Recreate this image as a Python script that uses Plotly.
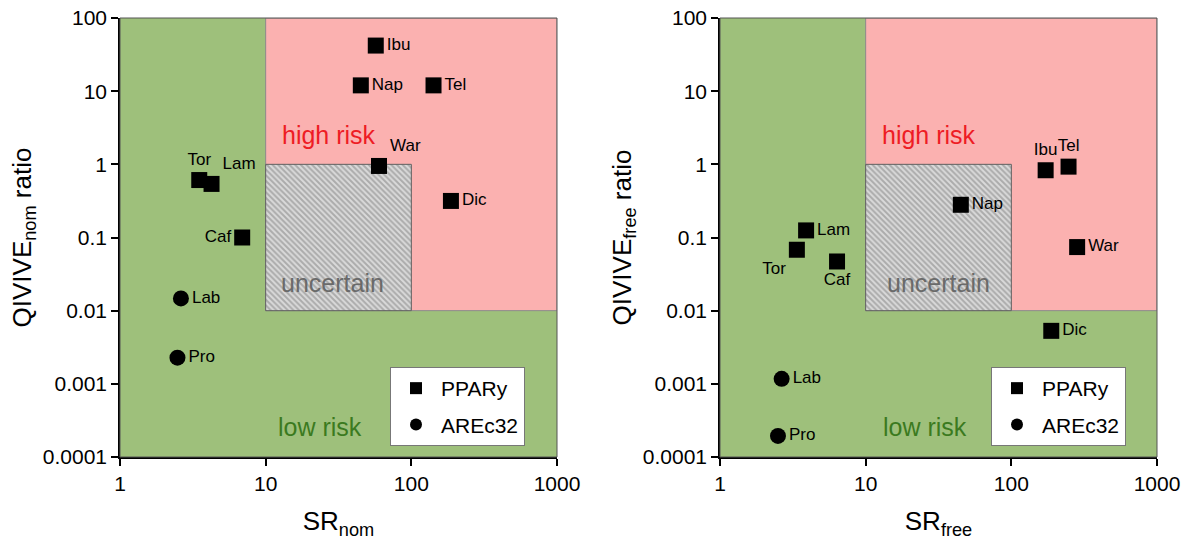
import plotly.graph_objects as go

# ---------------- data ----------------
ppar_names_nom = ["Ibu", "Nap", "Tel", "War", "Dic", "Tor", "Lam", "Caf"]
ppar_sr_nom = [57, 45, 142, 60, 187, 3.5, 4.25, 6.9]
ppar_q_nom = [42, 12, 12, 0.95, 0.316, 0.61, 0.54, 0.1]
ppar_pos_nom = ["middle right", "middle right", "middle right", "top right",
                "middle right", "top center", "top right", "middle left"]

are_names_nom = ["Lab", "Pro"]
are_sr_nom = [2.62, 2.48]
are_q_nom = [0.0147, 0.00228]
are_pos_nom = ["middle right", "middle right"]

ppar_names_free = ["Ibu", "Tel", "Nap", "War", "Dic", "Lam", "Tor", "Caf"]
ppar_sr_free = [172, 247, 45, 283, 188, 3.9, 3.37, 6.36]
ppar_q_free = [0.83, 0.93, 0.28, 0.074, 0.0053, 0.125, 0.068, 0.047]
ppar_pos_free = ["top center", "top center", "middle right", "middle right",
                 "middle right", "middle right", "bottom left", "bottom center"]

are_names_free = ["Lab", "Pro"]
are_sr_free = [2.65, 2.5]
are_q_free = [0.00117, 0.000194]
are_pos_free = ["middle right", "middle right"]

# risk thresholds
sr_thresholds = [10, 100, 1000]
q_thresholds = [0.01, 1, 100]

x_tickvals = [1, 10, 100, 1000]
x_ticktext = ["1", "10", "100", "1000"]
y_tickvals = [0.0001, 0.001, 0.01, 0.1, 1, 10, 100]
y_ticktext = ["0.0001", "0.001", "0.01", "0.1", "1", "10", "100"]

# ---------------- styling ----------------
W, H = 1193, 546
GREEN = "#9ec07b"
PINK = "#fbb1b0"
FONT = "Liberation Sans, Arial, sans-serif"


def px_x(p):
    return p / W


def px_y(p):
    return 1 - p / H


fig = go.Figure()


def add_panel(fig, xa, ya, legend, pn, px, py, ppos, an, ax_, ay, apos):
    x0, x1, x2 = sr_thresholds
    y0, y1, y2 = q_thresholds
    # high risk (pink) region
    fig.add_trace(go.Scatter(
        x=[x0, x2, x2, x0, x0], y=[y0, y0, y2, y2, y0],
        mode="lines", fill="toself", fillcolor=PINK,
        line=dict(color="#8a8a8a", width=1),
        hoverinfo="skip", showlegend=False, xaxis=xa, yaxis=ya))
    # uncertain (hatched) region
    fig.add_trace(go.Scatter(
        x=[x0, x1, x1, x0, x0], y=[y0, y0, y1, y1, y0],
        mode="lines", fill="toself",
        fillpattern=dict(shape="\\", bgcolor="#dadada", fgcolor="#7c7c7c",
                         size=4, solidity=0.5),
        line=dict(color="#606060", width=1),
        hoverinfo="skip", showlegend=False, xaxis=xa, yaxis=ya))
    fig.add_trace(go.Scatter(
        x=px, y=py, text=pn, mode="markers+text", textposition=ppos,
        marker=dict(symbol="square", size=16, color="black"),
        textfont=dict(size=17, color="black", family=FONT),
        name="PPARy", legend=legend, legendgroup="p" + legend,
        xaxis=xa, yaxis=ya, cliponaxis=False))
    fig.add_trace(go.Scatter(
        x=ax_, y=ay, text=an, mode="markers+text", textposition=apos,
        marker=dict(symbol="circle", size=16, color="black"),
        textfont=dict(size=17, color="black", family=FONT),
        name="AREc32", legend=legend, legendgroup="a" + legend,
        xaxis=xa, yaxis=ya, cliponaxis=False))


add_panel(fig, "x", "y", "legend", ppar_names_nom, ppar_sr_nom, ppar_q_nom, ppar_pos_nom,
          are_names_nom, are_sr_nom, are_q_nom, are_pos_nom)
add_panel(fig, "x2", "y2", "legend2", ppar_names_free, ppar_sr_free, ppar_q_free, ppar_pos_free,
          are_names_free, are_sr_free, are_q_free, are_pos_free)

# domains from pixel layout
lx0, lx1 = px_x(120), px_x(557)
rx0, rx1 = px_x(720), px_x(1157)
yb, yt = px_y(457), px_y(18)

axis_common = dict(
    type="log", showline=True, linecolor="black", linewidth=1.5,
    ticks="outside", ticklen=7, tickwidth=1.5, tickcolor="black",
    showgrid=False, zeroline=False, automargin=False,
    ticklabeloverflow="allow",
    tickfont=dict(size=21, color="black", family=FONT),
)

legend_common = dict(
    xanchor="left", yanchor="top",
    bgcolor="white", bordercolor="#777777", borderwidth=1,
    font=dict(size=21, family=FONT), tracegroupgap=6,
    itemsizing="constant", itemwidth=40,
)

fig.update_layout(
    width=W, height=H,
    margin=dict(l=0, r=0, t=0, b=0),
    paper_bgcolor="white", plot_bgcolor=GREEN,
    font=dict(family=FONT, color="black"),
    xaxis=dict(axis_common, domain=[lx0, lx1], range=[0, 3], anchor="y",
               tickvals=x_tickvals, ticktext=x_ticktext,
               title=dict(text="SR<sub>nom</sub>", font=dict(size=26, family=FONT), standoff=18)),
    yaxis=dict(axis_common, domain=[yb, yt], range=[-4, 2], anchor="x",
               tickvals=y_tickvals, ticktext=y_ticktext,
               title=dict(text="QIVIVE<sub>nom</sub> ratio", font=dict(size=26, family=FONT), standoff=4)),
    xaxis2=dict(axis_common, domain=[rx0, rx1], range=[0, 3], anchor="y2",
                tickvals=x_tickvals, ticktext=x_ticktext,
                title=dict(text="SR<sub>free</sub>", font=dict(size=26, family=FONT), standoff=18)),
    yaxis2=dict(axis_common, domain=[yb, yt], range=[-4, 2], anchor="x2",
                tickvals=y_tickvals, ticktext=y_ticktext,
                title=dict(text="QIVIVE<sub>free</sub> ratio", font=dict(size=26, family=FONT), standoff=4)),
    legend=dict(legend_common, x=px_x(390), y=px_y(367)),
    legend2=dict(legend_common, x=px_x(991), y=px_y(367)),
    showlegend=True,
)

# plot frame
for xr, yr in [("x domain", "y domain"), ("x2 domain", "y2 domain")]:
    fig.add_shape(type="rect", xref=xr, yref=yr, x0=0, x1=1, y0=0, y1=1,
                  line=dict(color="#555555", width=1), layer="above")

# region labels
for xr, yr, hx, ux, lx in [("x domain", "y domain", 0.366, 0.487, 0.458),
                           ("x2 domain", "y2 domain", 0.366, 0.499, 0.469)]:
    fig.add_annotation(xref=xr, yref=yr, x=hx, y=0.733, xanchor="left", yanchor="middle",
                       text="high risk", showarrow=False,
                       font=dict(size=25, color="#ee1c24", family=FONT))
    fig.add_annotation(xref=xr, yref=yr, x=ux, y=0.396, xanchor="center", yanchor="middle",
                       text="uncertain", showarrow=False,
                       font=dict(size=25, color="#6a6a6a", family=FONT))
    fig.add_annotation(xref=xr, yref=yr, x=lx, y=0.068, xanchor="center", yanchor="middle",
                       text="low risk", showarrow=False,
                       font=dict(size=25, color="#3b7a1f", family=FONT))

fig.write_html("out.html",
               config={"displayModeBar": False},
               post_script="document.body.style.margin='0px';document.body.style.padding='0px';")
